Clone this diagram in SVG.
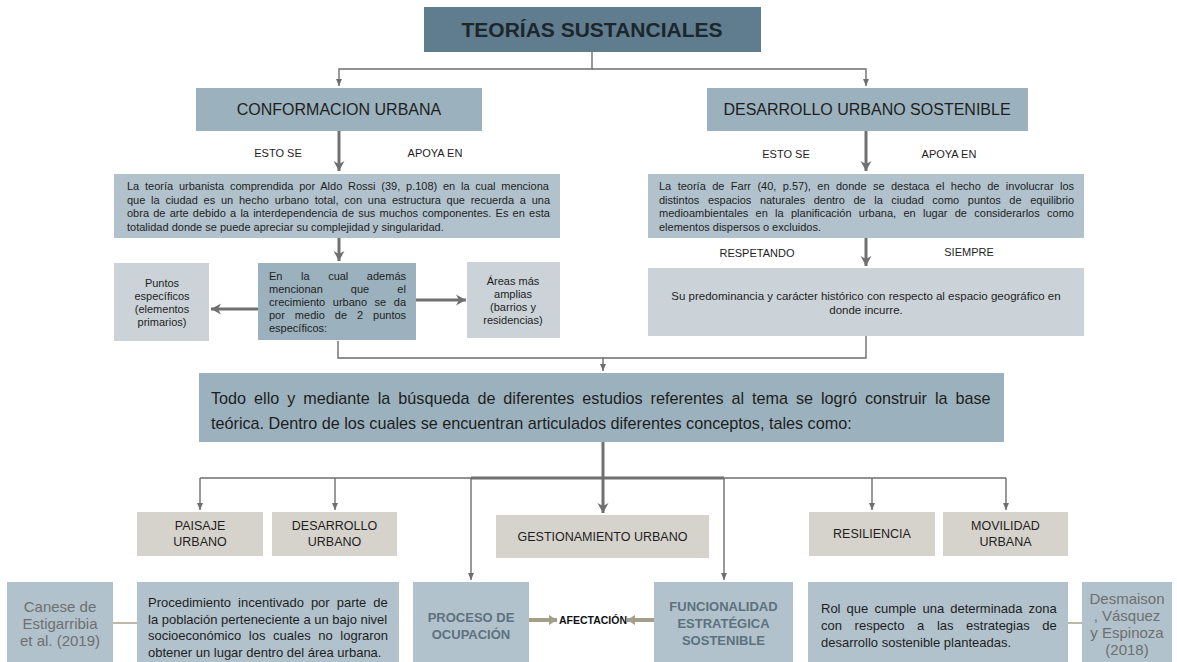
<svg xmlns="http://www.w3.org/2000/svg" width="1177" height="662" viewBox="0 0 1177 662">
<style>
text{font-family:"Liberation Sans",Arial,sans-serif;fill:#1e1e1e}
.c{text-anchor:middle}
.t11{font-size:11px}
.t12{font-size:12.5px}
.t13{font-size:13px}
.t16{font-size:16px}
.cite{font-size:15px;fill:#6f6f6f;text-anchor:middle}
.bb{font-size:13px;font-weight:bold;fill:#5d717e;text-anchor:middle}
.thin{fill:none;stroke:#6e6e6e;stroke-width:1.4}
.thick{fill:none;stroke:#707070;stroke-width:3}
.tan{fill:none;stroke:#a8a08c;stroke-width:1.5}
.tanA{fill:none;stroke:#a59f8a;stroke-width:4}
.dark{fill:#5f7d8e}
.mid{fill:#9bb1bd}
.lt{fill:#b1c2cc}
.lt2{fill:#cbd3d8}
.cat{fill:#d6d3cc}
</style>
<defs>
<marker id="aThin" markerUnits="userSpaceOnUse" markerWidth="8" markerHeight="8" refX="7" refY="4" orient="auto"><path d="M0,1 L7,4 L0,7 Z" fill="#6e6e6e"/></marker>
<marker id="aThick" markerUnits="userSpaceOnUse" markerWidth="12" markerHeight="12" refX="10" refY="6" orient="auto"><path d="M0,0.5 L10,6 L0,11.5 L3,6 Z" fill="#707070"/></marker>
<marker id="aTan" markerUnits="userSpaceOnUse" markerWidth="10" markerHeight="10" refX="8" refY="5" orient="auto"><path d="M0,0 L8,5 L0,10 Z" fill="#a59f8a"/></marker>
</defs>

<g id="connectors">
<path class="thin" d="M592,52 V69 H339 V86" marker-end="url(#aThin)"/>
<path class="thin" d="M592,69 H866 V86" marker-end="url(#aThin)"/>
<path class="thick" d="M339,131 V171" marker-end="url(#aThick)"/>
<path class="thick" d="M866,131 V171" marker-end="url(#aThick)"/>
<path class="thick" d="M339,238 V261" marker-end="url(#aThick)"/>
<path class="thick" d="M866,238 V266" marker-end="url(#aThick)"/>
<path class="thick" d="M258,309 H211" marker-end="url(#aThick)"/>
<path class="thick" d="M416,300 H466" marker-end="url(#aThick)"/>
<path class="thin" d="M338,341 V358 H603 V371" marker-end="url(#aThin)"/>
<path class="thin" d="M866,336 V358 H603"/>
<path class="thin" d="M200,478 H1006"/>
<path class="thick" d="M471,478 H724"/>
<path class="thick" d="M603,442 V513" marker-end="url(#aThick)"/>
<path class="thin" d="M200,478 V510" marker-end="url(#aThin)"/>
<path class="thin" d="M335,478 V510" marker-end="url(#aThin)"/>
<path class="thin" d="M872,478 V510" marker-end="url(#aThin)"/>
<path class="thin" d="M1006,478 V510" marker-end="url(#aThin)"/>
<path class="thin" d="M471,478 V580" marker-end="url(#aThin)"/>
<path class="thin" d="M724,478 V580" marker-end="url(#aThin)"/>
<path class="tanA" d="M529,620 H557" marker-end="url(#aTan)"/>
<path class="tanA" d="M654,620 H627" marker-end="url(#aTan)"/>
<path class="tan" d="M113,623 H137"/>
<path class="tan" d="M1068,623 H1082"/>
</g>

<g id="labels">
<text class="t11 c" x="278" y="157">ESTO SE</text>
<text class="t11 c" x="435" y="157">APOYA EN</text>
<text class="t11 c" x="786" y="158">ESTO SE</text>
<text class="t11 c" x="949" y="158">APOYA EN</text>
<text class="t11 c" x="757" y="257">RESPETANDO</text>
<text class="t11 c" x="969" y="256">SIEMPRE</text>
<text x="593" y="624" class="c" style="font-size:10.5px;font-weight:bold;fill:#111">AFECTACIÓN</text>
</g>

<g id="title">
<rect class="dark" x="424" y="7" width="337" height="45"/>
<text class="c" x="592" y="37" style="font-size:21px;font-weight:bold;fill:#1c262c">TEORÍAS SUSTANCIALES</text>
</g>

<g id="conformacion">
<rect class="mid" x="196" y="88" width="286" height="43"/>
<text class="t16 c" x="339" y="115">CONFORMACION URBANA</text>
</g>

<g id="desarrollo-sostenible">
<rect class="mid" x="707" y="88" width="321" height="43"/>
<text class="t16 c" x="867" y="115">DESARROLLO URBANO SOSTENIBLE</text>
</g>

<g id="rossi">
<rect class="lt" x="114" y="174" width="446" height="64"/>
<text class="t11" x="127" y="190" word-spacing="2.7">La teoría urbanista comprendida por Aldo Rossi (39, p.108) en la cual menciona</text>
<text class="t11" x="127" y="203.5" word-spacing="2.7">que la ciudad es un hecho urbano total, con una estructura que recuerda a una</text>
<text class="t11" x="127" y="217" word-spacing="1.15">obra de arte debido a la interdependencia de sus muchos componentes. Es en esta</text>
<text class="t11" x="127" y="230.5">totalidad donde se puede apreciar su complejidad y singularidad.</text>
</g>

<g id="farr">
<rect class="lt" x="648" y="174" width="436" height="64"/>
<text class="t11" x="659" y="190" word-spacing="3.35">La teoría de Farr (40, p.57), en donde se destaca el hecho de involucrar los</text>
<text class="t11" x="659" y="203.5" word-spacing="5.5">distintos espacios naturales dentro de la ciudad como puntos de equilibrio</text>
<text class="t11" x="659" y="217" word-spacing="4.25">medioambientales en la planificación urbana, en lugar de considerarlos como</text>
<text class="t11" x="659" y="230.5">elementos dispersos o excluidos.</text>
</g>

<g id="puntos">
<rect class="lt2" x="114" y="263" width="95" height="78"/>
<text class="t11 c" x="162" y="287">Puntos</text>
<text class="t11 c" x="162" y="300">específicos</text>
<text class="t11 c" x="162" y="313">(elementos</text>
<text class="t11 c" x="162" y="326">primarios)</text>
</g>

<g id="crecimiento">
<rect class="mid" x="258" y="263" width="158" height="77"/>
<text class="t11" x="269" y="280" word-spacing="15.5">En la cual además</text>
<text class="t11" x="269" y="293" word-spacing="25">mencionan que el</text>
<text class="t11" x="269" y="306" word-spacing="4.5">crecimiento urbano se da</text>
<text class="t11" x="269" y="319" word-spacing="6.9">por medio de 2 puntos</text>
<text class="t11" x="269" y="332">específicos:</text>
</g>

<g id="areas">
<rect class="lt2" x="467" y="262" width="93" height="76"/>
<text class="t11 c" x="513" y="285">Áreas más</text>
<text class="t11 c" x="513" y="298">amplias</text>
<text class="t11 c" x="513" y="311">(barrios y</text>
<text class="t11 c" x="513" y="324">residencias)</text>
</g>

<g id="predominancia">
<rect class="lt2" x="648" y="268" width="436" height="68"/>
<text class="c" style="font-size:11.5px" x="866" y="300">Su predominancia y carácter histórico con respecto al espacio geográfico en</text>
<text class="c" style="font-size:11.5px" x="866" y="314">donde incurre.</text>
</g>

<g id="base-teorica">
<rect class="mid" x="199" y="373" width="805" height="69"/>
<text style="font-size:16.2px" x="211" y="404" word-spacing="3.45">Todo ello y mediante la búsqueda de diferentes estudios referentes al tema se logró construir la base</text>
<text style="font-size:16.2px" x="211" y="429">teórica. Dentro de los cuales se encuentran articulados diferentes conceptos, tales como:</text>
</g>

<g id="paisaje">
<rect class="cat" x="137" y="512" width="126" height="44"/>
<text class="t12 c" x="200" y="530">PAISAJE</text>
<text class="t12 c" x="200" y="546">URBANO</text>
</g>
<g id="desarrollo-urbano">
<rect class="cat" x="272" y="512" width="125" height="44"/>
<text class="t12 c" x="334.5" y="530">DESARROLLO</text>
<text class="t12 c" x="334.5" y="546">URBANO</text>
</g>
<g id="gestionamiento">
<rect class="cat" x="496" y="515" width="213" height="43"/>
<text class="t12 c" x="602.5" y="541">GESTIONAMIENTO URBANO</text>
</g>
<g id="resiliencia">
<rect class="cat" x="809" y="512" width="126" height="44"/>
<text class="t12 c" x="872" y="538">RESILIENCIA</text>
</g>
<g id="movilidad">
<rect class="cat" x="943" y="512" width="125" height="44"/>
<text class="t12 c" x="1005.5" y="530">MOVILIDAD</text>
<text class="t12 c" x="1005.5" y="546">URBANA</text>
</g>

<g id="canese">
<rect class="lt" x="7" y="582" width="106" height="80"/>
<text class="cite" x="60" y="612">Canese de</text>
<text class="cite" x="60" y="629">Estigarribia</text>
<text class="cite" x="60" y="646">et al. (2019)</text>
</g>

<g id="procedimiento">
<rect class="lt" x="137" y="582" width="262" height="80"/>
<text class="t13" x="148" y="607" word-spacing="3.4">Procedimiento incentivado por parte de</text>
<text class="t13" x="148" y="623.5">la población perteneciente a un bajo nivel</text>
<text class="t13" x="148" y="640" word-spacing="4">socioeconómico los cuales no lograron</text>
<text class="t13" x="148" y="656.5">obtener un lugar dentro del área urbana.</text>
</g>

<g id="proceso">
<rect class="lt" x="413" y="582" width="116" height="80"/>
<text class="bb" x="471" y="622">PROCESO DE</text>
<text class="bb" x="471" y="639">OCUPACIÓN</text>
</g>

<g id="funcionalidad">
<rect class="lt" x="654" y="582" width="139" height="80"/>
<text class="bb" x="723.5" y="611">FUNCIONALIDAD</text>
<text class="bb" x="723.5" y="628">ESTRATÉGICA</text>
<text class="bb" x="723.5" y="645">SOSTENIBLE</text>
</g>

<g id="rol">
<rect class="lt" x="808" y="582" width="260" height="80"/>
<text class="t13" x="821" y="613" word-spacing="2.5">Rol que cumple una determinada zona</text>
<text class="t13" x="821" y="630" word-spacing="9">con respecto a las estrategias de</text>
<text class="t13" x="821" y="647">desarrollo sostenible planteadas.</text>
</g>

<g id="desmaison">
<rect class="lt" x="1082" y="582" width="90" height="80"/>
<text class="cite" x="1127" y="604">Desmaison</text>
<text class="cite" x="1127" y="621">, Vásquez</text>
<text class="cite" x="1127" y="638">y Espinoza</text>
<text class="cite" x="1127" y="655">(2018)</text>
</g>
</svg>
